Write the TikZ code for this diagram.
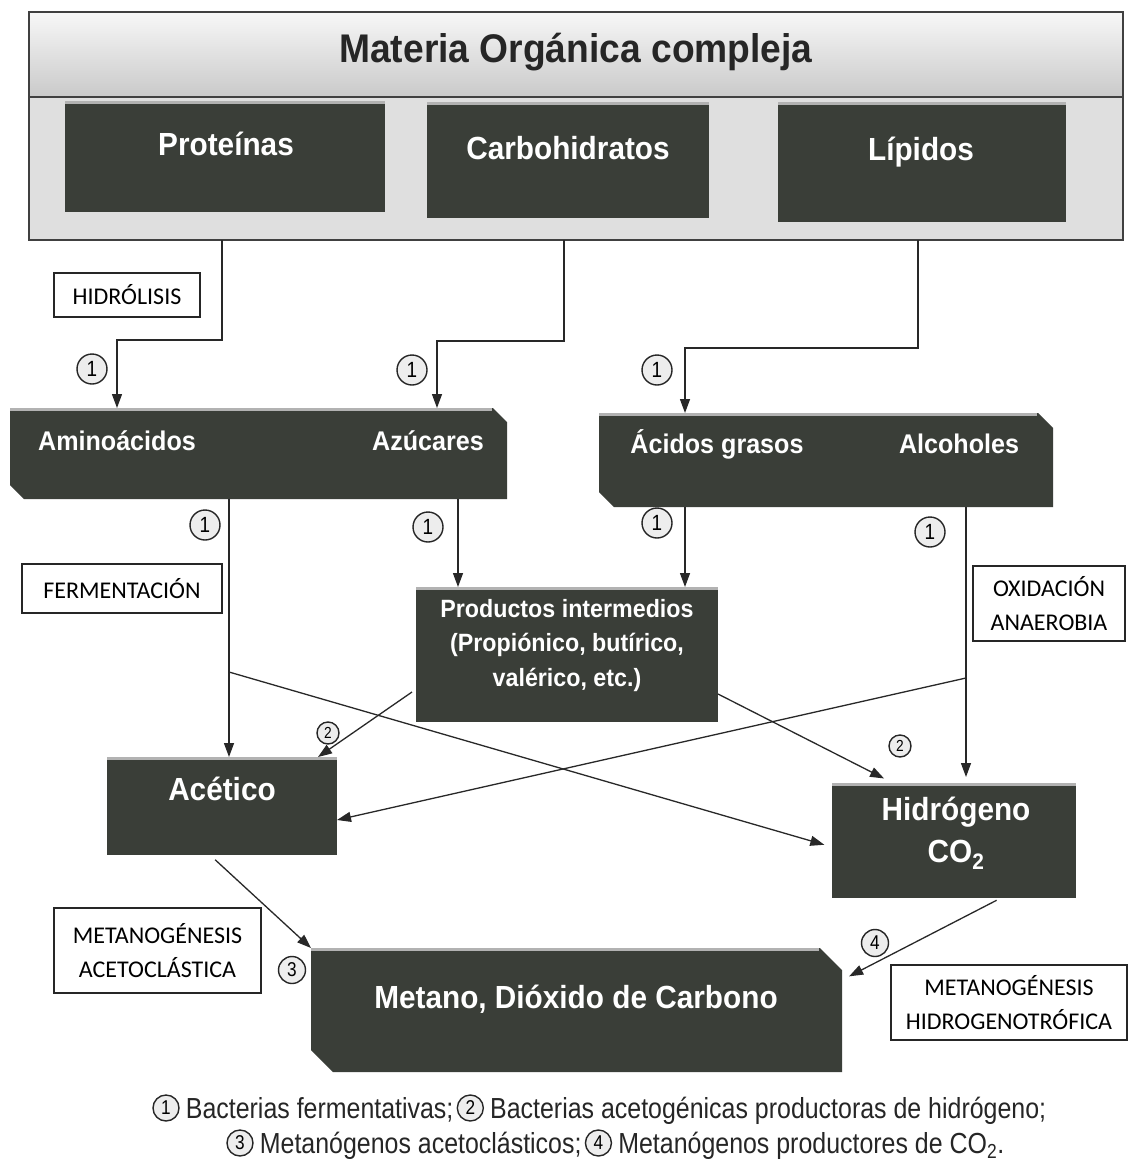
\documentclass[tikz,border=0pt]{standalone}
\usepackage{fontspec}
\setmainfont{Liberation Sans}
\newfontfamily\boxfont[FakeStretch=0.93]{Liberation Sans}
\newfontfamily\legfont[FakeStretch=0.86]{Liberation Sans}
\newfontfamily\labfont{Carlito}
\usetikzlibrary{arrows.meta,calc,positioning}
\definecolor{dbox}{RGB}{58,62,56}
\definecolor{lnk}{RGB}{40,40,40}
\newcommand\chamf[2]{\fill[dbox] (#1.north west) -- ([xshift=-#2]#1.north east) -- ([yshift=-#2]#1.north east) -- (#1.south east) -- ([xshift=#2]#1.south west) -- ([yshift=#2]#1.south west) -- cycle;
\draw[gray!60, line width=3pt] ([yshift=-1.5pt]#1.north west) -- ([yshift=-1.5pt,xshift=-#2-1.5pt]#1.north east);}
\newcommand\tophl[1]{\draw[gray!60, line width=3pt] ([yshift=-1.5pt]#1.north west) -- ([yshift=-1.5pt]#1.north east);}
\tikzset{
  frame/.style={inner sep=0pt, outer sep=0pt, draw=none},
  dark/.style={frame, fill=dbox},
  btxt/.style={text=white, font={\boxfont\bfseries\fontsize{#1}{#1}\selectfont}, anchor=base, inner sep=0pt},
  lab/.style={draw=black!85, line width=1.2pt, fill=white, font={\labfont\fontsize{24}{34}\selectfont}, align=center, inner sep=0pt},
  cnum/.style 2 args={circle, draw=black!85, line width=1.4pt, fill=gray!14, inner sep=0pt, minimum size=#1, font={\legfont\fontsize{#2}{#2}\selectfont}},
  ln/.style={draw=lnk, line width=1.3pt},
  arr/.style={ln, -{Triangle[length=14pt,width=10pt]}},
  legt/.style={inner sep=0pt, anchor=base west, font={\legfont\fontsize{29}{32}\selectfont}, text=black!85},
}
\begin{document}
\begin{tikzpicture}[x=1pt,y=-1pt]
\useasboundingbox (0,0) rectangle (1129,1173);
\fill[white] (0,0) rectangle (1129,1173);

% ---------- banner ----------
\node[frame, minimum width=1094pt, minimum height=228pt] (banner) at (576,126) {};
\shade[top color=gray!6, bottom color=gray!42] (banner.north west) rectangle (banner.east |- 0,97);
\fill[gray!25] (banner.west |- 0,97) rectangle (banner.south east);
\draw[line width=2pt, black!75] (banner.north west) rectangle (banner.south east);
\draw[line width=2pt, black!75] (banner.west |- 0,97) -- (banner.east |- 0,97);
\node[btxt=40, text=black!85] (title) at (576,62) {Materia Orgánica compleja};

\node[dark, minimum width=320pt, minimum height=111pt] (prot) at (225,156.5) {};
\tophl{prot}
\node[btxt=32] (prott) at (226,155) {Proteínas};
\node[dark, minimum width=282pt, minimum height=116pt] (carbo) at (568,160) {};
\tophl{carbo}
\node[btxt=32] (carbot) at (568,159) {Carbohidratos};
\node[dark, minimum width=288pt, minimum height=120pt] (lip) at (922,162) {};
\tophl{lip}
\node[btxt=32] (lipt) at (921,160) {Lípidos};

% ---------- second row ----------
\node[frame, minimum width=497pt, minimum height=91pt] (am) at (258.5,453.5) {};
\chamf{am}{14pt}
\node[btxt=27] (amt) at (117,450) {Aminoácidos};
\node[btxt=27] (azt) at (428,450) {Azúcares};

\node[frame, minimum width=454pt, minimum height=94pt] (ac) at (826,460) {};
\chamf{ac}{15pt}
\node[btxt=27] (act) at (717,453) {Ácidos grasos};
\node[btxt=27] (alt) at (959,453) {Alcoholes};

% ---------- products ----------
\node[dark, minimum width=302pt, minimum height=135pt] (prod) at (567,654.5) {};
\tophl{prod}
\node[btxt=25] (pr1) at (567,617) {Productos intermedios};
\node[btxt=25] (pr2) at (567,651) {(Propiónico, butírico,};
\node[btxt=25] (pr3) at (567,686) {valérico, etc.)};

\node[dark, minimum width=230pt, minimum height=98pt] (acet) at (222,806) {};
\tophl{acet}
\node[btxt=32] (acett) at (222,800) {Acético};

\node[dark, minimum width=244pt, minimum height=115pt] (hid) at (954,840.5) {};
\tophl{hid}
\node[btxt=32] (hidt) at (956,820) {Hidrógeno};
\node[btxt=32] (cot) at (956,862) {CO\textsubscript{2}};

\node[frame, minimum width=531pt, minimum height=124pt] (met) at (576.5,1010) {};
\chamf{met}{22pt}
\node[btxt=32] (mett) at (576,1008) {Metano, Dióxido de Carbono};

% ---------- label boxes ----------
\node[lab, minimum width=146pt, minimum height=44pt] (hidr) at (127,295) {HIDRÓLISIS};
\node[lab, minimum width=200pt, minimum height=49pt] (ferm) at (122,588.5) {FERMENTACIÓN};
\node[lab, minimum width=152pt, minimum height=75pt] (oxid) at (1049,603.5) {OXIDACIÓN\\ANAEROBIA};
\node[lab, minimum width=207pt, minimum height=85pt] (mac) at (157.5,950.5) {METANOGÉNESIS\\ACETOCLÁSTICA};
\node[lab, minimum width=236pt, minimum height=75pt] (mhy) at (1009,1002.5) {METANOGÉNESIS\\HIDROGENOTRÓFICA};

% ---------- connectors ----------
\draw[arr] (banner.south -| 222,0) -- (222,340) -| (am.north -| amt);
\draw[arr] (banner.south -| 564,0) -- (564,341) -| (am.north -| 437,0);
\draw[arr] (banner.south -| 918,0) -- (918,348) -| (ac.north -| 685,0);

\draw[arr] (am.south -| 229,0) -- (acet.north -| 229,0);
\draw[arr] (am.south -| 458,0) -- (prod.north -| 458,0);
\draw[arr] (ac.south -| 685,0) -- (prod.north -| 685,0);
\draw[arr, shorten >=6pt] (ac.south -| 966,0) -- (hid.north -| 966,0);

\coordinate (xa) at (229,672);
\coordinate (xb) at (966,678);
\draw[arr, shorten >=8pt] (xa) -- (hid.west |- 0,847);
\draw[arr] (xb) -- (acet.east |- 0,820);
\draw[arr] (prod.west |- 0,692) ++(-4,0) -- (acet.north -| 318,0);
\draw[arr, shorten >=10pt] (prod.east |- 0,694) -- (hid.north -| 893,0);
\draw[arr, shorten <=7pt] (acet.south -| 210,0) -- (met.north west);
\draw[arr, shorten <=5pt, shorten >=8pt] (hid.south -| 1001,0) -- (met.east |- 0,980);

% ---------- circled numbers ----------
\foreach \n/\x/\y in {a/92/369, b/412/370, c/657/370, d/205/525, e/428/527, f/657/523, g/930/532}
  \node[cnum={30pt}{22}] (c1\n) at (\x,\y) {1};
\node[cnum={22pt}{16}] (c2a) at (328,733) {2};
\node[cnum={22pt}{16}] (c2b) at (900,746) {2};
\node[cnum={27pt}{20}] (c3) at (292,970) {3};
\node[cnum={27pt}{20}] (c4) at (875,943) {4};

% ---------- legend ----------
\node[cnum={26pt}{20}] (l1) at (166,1108) {1};
\node[legt] (l1t) at ([xshift=6pt]l1.east |- 0,1118) {Bacterias fermentativas;};
\node[cnum={26pt}{20}, anchor=west] (l2) at ([xshift=3pt]l1t.east |- l1) {2};
\node[legt] (l2t) at ([xshift=6pt]l2.east |- l1t.base) {Bacterias acetogénicas productoras de hidrógeno;};
\node[cnum={26pt}{20}] (l3) at (240,1143) {3};
\node[legt] (l3t) at ([xshift=6pt]l3.east |- 0,1153) {Metanógenos acetoclásticos;};
\node[cnum={26pt}{20}, anchor=west] (l4) at ([xshift=3pt]l3t.east |- l3) {4};
\node[legt] (l4t) at ([xshift=6pt]l4.east |- l3t.base) {Metanógenos productores de CO\textsubscript{2}.};
\end{tikzpicture}
\end{document}
